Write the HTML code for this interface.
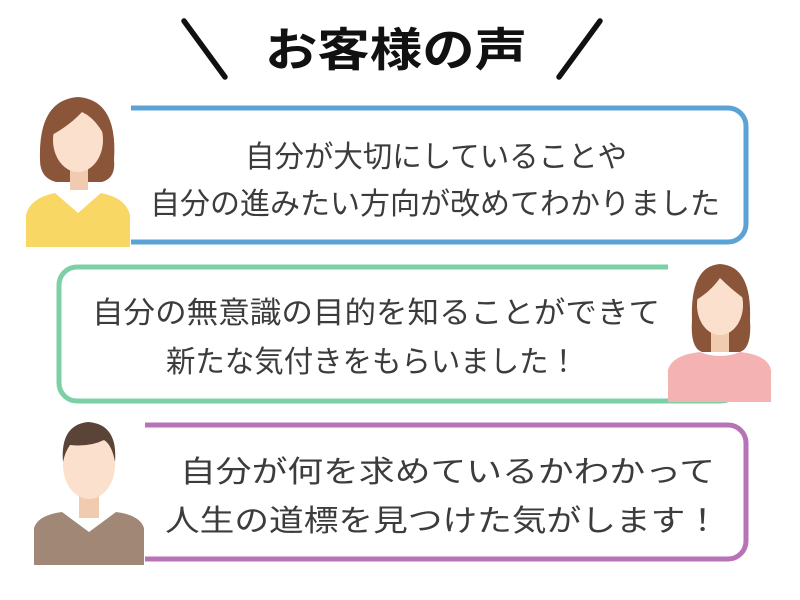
<!DOCTYPE html>
<html><head><meta charset="utf-8"><style>
html,body{margin:0;padding:0;background:#fff;width:800px;height:600px;overflow:hidden}
svg{display:block}
.t{font-family:"Liberation Sans","Noto Sans CJK JP",sans-serif;font-size:30px;fill:#3c3c3c;font-weight:400}
</style></head><body>
<svg width="800" height="600" viewBox="0 0 800 600">
<line x1="184" y1="21" x2="225" y2="77" stroke="#111" stroke-width="5.5" stroke-linecap="round"/>
<line x1="600" y1="21" x2="559" y2="77" stroke="#111" stroke-width="5.5" stroke-linecap="round"/>
<text x="265" y="66" textLength="262" lengthAdjust="spacingAndGlyphs" style="font-family:'Liberation Sans','Noto Sans CJK JP',sans-serif;font-size:46px;font-weight:bold;fill:#111">お客様の声</text>

<rect x="70" y="108" width="676" height="134" rx="18" fill="#fff" stroke="#5ba3d4" stroke-width="5"/>
<rect x="59" y="267" width="680" height="134" rx="18" fill="#fff" stroke="#7dd0a6" stroke-width="5"/>
<rect x="70" y="425" width="676" height="134" rx="18" fill="#fff" stroke="#b872b8" stroke-width="5"/>

<text class="t" x="245" y="167" textLength="382" lengthAdjust="spacingAndGlyphs">自分が大切にしていることや</text>
<text class="t" x="150" y="214" textLength="570" lengthAdjust="spacingAndGlyphs">自分の進みたい方向が改めてわかりました</text>
<text class="t" x="92" y="323" textLength="568" lengthAdjust="spacingAndGlyphs">自分の無意識の目的を知ることができて</text>
<text class="t" x="166" y="372" textLength="412" lengthAdjust="spacingAndGlyphs">新たな気付きをもらいました！</text>
<text class="t" x="180" y="482" textLength="535" lengthAdjust="spacingAndGlyphs">自分が何を求めているかわかって</text>
<text class="t" x="165" y="531" textLength="555" lengthAdjust="spacingAndGlyphs">人生の道標を見つけた気がします！</text>

<g>
<rect x="25" y="96" width="106" height="152" fill="#fff"/>
<path d="M40 160 Q38 100 78 97 Q118 100 114 160 Q116 178 102 182 L56 182 Q40 178 40 160Z" fill="#8a5538"/>
<rect x="70" y="165" width="18" height="25" fill="#f0cbb0"/>
<ellipse cx="78" cy="140" rx="25" ry="32" fill="#fbe1cd"/>
<path d="M52 135 Q52 100 80 102 Q106 104 104 135 Q95 118 82 112 Q70 125 52 135Z" fill="#8a5538"/>
<path d="M26 247 L26 215 Q30 198 55 193 L78 213 L101 193 Q126 198 130 215 L130 247Z" fill="#f8d764"/>
</g>
<g>
<rect x="668" y="262" width="104" height="140" fill="#fff"/>
<path d="M692 320 Q690 266 720 264 Q752 266 750 320 Q752 348 740 352 L702 352 Q690 348 692 320Z" fill="#8a5538"/>
<rect x="711" y="330" width="18" height="22" fill="#f0cbb0"/>
<ellipse cx="720" cy="305" rx="23" ry="30" fill="#fbe1cd"/>
<path d="M696 300 Q694 268 722 268 Q748 270 746 300 Q732 290 720 278 Q710 292 696 300Z" fill="#8a5538"/>
<path d="M668 402 L668 370 Q672 355 700 352 Q720 360 740 352 Q768 355 771 370 L771 402Z" fill="#f4b3b2"/>
</g>
<g>
<rect x="33" y="420" width="112" height="146" fill="#fff"/>
<rect x="79" y="490" width="20" height="28" fill="#f0cbb0"/>
<ellipse cx="89" cy="465" rx="26" ry="34" fill="#fbe1cd"/>
<path d="M63 462 Q60 425 88 422 Q118 424 115 462 Q112 445 104 440 Q90 447 70 445 Q65 452 63 462Z" fill="#5a4438"/>
<path d="M34 565 L34 528 Q38 515 62 512 L89 532 L116 512 Q140 515 144 528 L144 565Z" fill="#a18876"/>
</g>
</svg>
</body></html>
